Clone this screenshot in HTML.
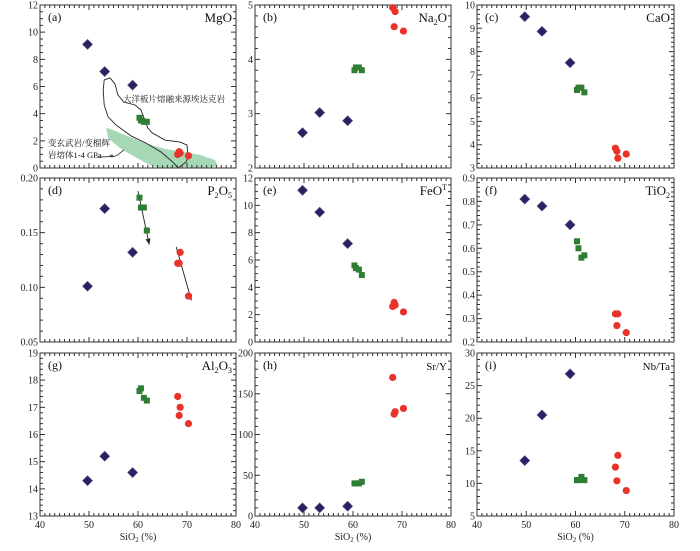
<!DOCTYPE html>
<html><head><meta charset="utf-8">
<style>
html,body{margin:0;padding:0;background:#fff;}
svg{display:block;font-family:"Liberation Serif","Noto Serif CJK SC",serif;}
</style></head>
<body>
<svg id="chart" width="700" height="551" viewBox="0 0 700 551" xmlns="http://www.w3.org/2000/svg"></svg>
<script>
const NS='http://www.w3.org/2000/svg';
const svg=document.getElementById('chart');
// SiO2 values per group
const sio2Basalt=[49.7,53.2,58.9];
const sio2Andesite=[60.3,60.6,61.2,61.8];
const sio2Dacite=[68.1,68.4,68.6,70.3];
// Per-panel element values
const mgoBasalt=[9.1,7.1,6.1], mgoAndesite=[3.7,3.5,3.4,3.4], mgoDacite=[1.0,1.2,1.1,0.9];
const na2oBasalt=[2.65,3.02,2.87], na2oAndesite=[3.8,3.85,3.85,3.8], na2oDacite=[4.95,4.6,4.88,4.52];
const caoBasalt=[9.5,8.87,7.52], caoAndesite=[6.35,6.45,6.45,6.25], caoDacite=[3.85,3.72,3.42,3.6];
const p2o5Basalt=[0.101,0.172,0.132], p2o5Andesite=[0.182,0.173,0.173,0.152], p2o5Dacite=[0.122,0.122,0.132,0.092];
const feoBasalt=[11.1,9.5,7.2], feoAndesite=[5.6,5.4,5.3,4.9], feoDacite=[2.6,2.9,2.7,2.2];
const tio2Basalt=[0.81,0.78,0.70], tio2Andesite=[0.63,0.60,0.56,0.57], tio2Dacite=[0.32,0.27,0.32,0.24];
const al2o3Basalt=[14.3,15.2,14.6], al2o3Andesite=[17.6,17.7,17.35,17.25], al2o3Dacite=[17.4,16.7,17.0,16.4];
const srYBasalt=[10,10,12], srYAndesite=[40,40,40,42], srYDacite=[170,125,128,132];
const nbTaBasalt=[13.5,20.5,26.8], nbTaAndesite=[10.5,10.5,11,10.5], nbTaDacite=[12.5,10.4,14.3,8.9];
const xTicks=[40,50,60,70,80];
// y tick labels per panel
const mgoTicks=[0,2,4,6,8,10,12];
const na2oTicks=[2,3,4,5];
const caoTicks=[3,4,5,6,7,8,9,10];
const p2o5Ticks=[0.05,0.10,0.15,0.20];
const feoTicks=[0,2,4,6,8,10,12];
const tio2Ticks=[0.2,0.3,0.4,0.5,0.6,0.7,0.8,0.9];
const al2o3Ticks=[13,14,15,16,17,18,19];
const srYTicks=[0,50,100,150,200];
const nbTaTicks=[5,10,15,20,25,30];
// trend arrows (data units) for P2O5
const arrowAndesite=[[60.0,0.188],[62.3,0.139]];
const arrowDacite=[[67.8,0.137],[70.9,0.088]];
// fields in MgO panel (data units)
const fieldSlabMelt=[[53.5,2.95],[54.9,2.8],[57.3,2.43],[61.4,1.84],[65.5,1.4],[69.6,1.18],[72.7,0.96],[75.7,0.59],[76.3,0.15],[73.7,0],[68.6,0.07],[64.5,0],[62.4,0.22],[59.4,0.81],[56.3,1.47],[53.9,2.2]];
const fieldAdakite=[[53.1,6.48],[54.3,6.63],[55.3,6.19],[55.9,5.38],[57.1,4.86],[59.4,4.64],[60.6,4.27],[61.4,3.53],[62.0,2.95],[62.9,2.58],[65.5,2.06],[68.6,1.91],[70.0,1.69],[70.2,0.81],[69.8,0.44],[68.2,0],[67.1,0.44],[64.7,1.18],[61.6,1.84],[58.6,2.36],[55.5,3.17],[53.9,3.76],[53.1,4.64],[52.9,5.74],[53.1,6.48]];
const adakiteTail=[[57.1,1.33],[55.9,0.96],[55.1,0.85],[54.6,0.81],[54.3,0.9],[54.7,0.96],[55.0,0.85],[52.0,0.81],[51.5,0.8]];

function el(tag,attrs,parent){const e=document.createElementNS(NS,tag);for(const k in attrs)e.setAttribute(k,attrs[k]);(parent||svg).appendChild(e);return e;}

const cols=[[40,236],[255,451],[477,674]];
const rows=[[5,168],[178,342],[353,516]];
const panels=[
 {id:'mgo',lab:'(a)',name:'MgO',sub:null,ymin:0,ymax:12,ticks:mgoTicks,minor:0.5,b:mgoBasalt,a:mgoAndesite,d:mgoDacite},
 {id:'na2o',lab:'(b)',name:'Na',sub:['2','O'],ymin:2,ymax:5,ticks:na2oTicks,minor:0.2,b:na2oBasalt,a:na2oAndesite,d:na2oDacite},
 {id:'cao',lab:'(c)',name:'CaO',sub:null,ymin:3,ymax:10,ticks:caoTicks,minor:0.2,b:caoBasalt,a:caoAndesite,d:caoDacite},
 {id:'p2o5',lab:'(d)',name:'P',sub:['2','O','5'],ymin:0.05,ymax:0.20,ticks:p2o5Ticks,minor:0.01,b:p2o5Basalt,a:p2o5Andesite,d:p2o5Dacite},
 {id:'feo',lab:'(e)',name:'FeO',sup:'T',ymin:0,ymax:12,ticks:feoTicks,minor:0.5,b:feoBasalt,a:feoAndesite,d:feoDacite},
 {id:'tio2',lab:'(f)',name:'TiO',sub:['2'],ymin:0.2,ymax:0.9,ticks:tio2Ticks,minor:0.02,b:tio2Basalt,a:tio2Andesite,d:tio2Dacite},
 {id:'al2o3',lab:'(g)',name:'Al',sub:['2','O','3'],ymin:13,ymax:19,ticks:al2o3Ticks,minor:0.2,b:al2o3Basalt,a:al2o3Andesite,d:al2o3Dacite},
 {id:'sr-y',lab:'(h)',name:'Sr/Y',sub:null,ymin:0,ymax:200,ticks:srYTicks,minor:10,b:srYBasalt,a:srYAndesite,d:srYDacite},
 {id:'nb-ta',lab:'(i)',name:'Nb/Ta',sub:null,ymin:5,ymax:30,ticks:nbTaTicks,minor:1,b:nbTaBasalt,a:nbTaAndesite,d:nbTaDacite}
];
panels.forEach((p,i)=>{
 const [x0,x1]=cols[i%3],[y0,y1]=rows[Math.floor(i/3)];
 const X=v=>x0+(v-40)/40*(x1-x0);
 const Y=v=>y1-(v-p.ymin)/(p.ymax-p.ymin)*(y1-y0);
 const g=el('g',{});
 
 
 if(p.id==='mgo'){
  const f=el('polygon',{points:fieldSlabMelt.map(q=>X(q[0])+','+Y(q[1])).join(' '),fill:'#a6d8b6',stroke:'none'},g);
  
  
  const o=el('polyline',{points:fieldAdakite.map(q=>X(q[0])+','+Y(q[1])).join(' '),fill:'none',stroke:'#222','stroke-width':0.9},g);
  
  
  const t=el('polyline',{points:adakiteTail.map(q=>X(q[0])+','+Y(q[1])).join(' '),fill:'none',stroke:'#222','stroke-width':0.8},g);
  
  
  const l1=el('text',{x:123,y:102,'font-size':8.5,fill:'#111'},g);l1.textContent='大洋板片熔融来源埃达克岩';
  
  
  const l2=el('text',{x:48,y:146,'font-size':8.5,fill:'#111'},g);l2.textContent='变玄武岩/变榴辉';
  
  
  const l3=el('text',{x:48,y:158,'font-size':8.5,fill:'#111'},g);l3.textContent='岩熔体1-4 GPa';
  
  
 }
 const fr=el('rect',{x:x0,y:y0,width:x1-x0,height:y1-y0,fill:'none',stroke:'#333','stroke-width':1},g);
 
 
 let d='';
 for(let v=40;v<=80;v+=1){const major=v%10===0;const L=major?5:3;const x=X(v);d+=`M${x},${y1}v${-L}M${x},${y0}v${L}`;}
 const nm=Math.round((p.ymax-p.ymin)/p.minor);
 for(let k=0;k<=nm;k++){const v=p.ymin+k*p.minor;const major=p.ticks.some(t=>Math.abs(t-v)<1e-9);const L=major?5:3;const y=Y(v);d+=`M${x0},${y}h${L}M${x1},${y}h${-L}`;}
 const tk=el('path',{d:d,stroke:'#333','stroke-width':1,fill:'none'},g);
 
 
 p.ticks.forEach(t=>{
  const tx=el('text',{x:x0-2,y:Y(t)+3.5,'font-size':10,'text-anchor':'end',fill:'#222'},g);
  tx.textContent=(p.id==='p2o5')?t.toFixed(2):String(t);
  
  
 });
 if(i>=6){
  xTicks.forEach(t=>{
   const tx=el('text',{x:X(t),y:y1+12,'font-size':10,'text-anchor':'middle',fill:'#222'},g);
   tx.textContent=String(t);
   
   
  });
  const xt=el('text',{x:(x0+x1)/2,y:y1+24,'font-size':10,'text-anchor':'middle',fill:'#222'},g);
  xt.innerHTML='SiO<tspan font-size="7" dy="2">2</tspan><tspan dy="-2"> (%)</tspan>';
  
  
 }
 const pl=el('text',{x:x0+8,y:y0+16,'font-size':12,fill:'#111'},g);pl.textContent=p.lab;
 
 
 const nmT=el('text',{x:x1-4,y:y0+17,'font-size':p.id==='sr-y'||p.id==='nb-ta'?11:13,'text-anchor':'end',fill:'#111'},g);
 let h=p.name;
 if(p.sub){ if(p.id==='na2o')h='Na<tspan font-size="8" dy="3">2</tspan><tspan dy="-3">O</tspan>';
   else if(p.id==='p2o5')h='P<tspan font-size="8" dy="3">2</tspan><tspan dy="-3">O</tspan><tspan font-size="8" dy="3">5</tspan>';
   else if(p.id==='tio2')h='TiO<tspan font-size="8" dy="3">2</tspan>';
   else if(p.id==='al2o3')h='Al<tspan font-size="8" dy="3">2</tspan><tspan dy="-3">O</tspan><tspan font-size="8" dy="3">3</tspan>';}
 if(p.sup)h='FeO<tspan font-size="8" dy="-5">T</tspan>';
 nmT.innerHTML=h;
 
 
 if(p.id==='p2o5'){
  [arrowAndesite,arrowDacite].forEach((ar,j)=>{
   const ax=X(ar[0][0]),ay=Y(ar[0][1]),bx=X(ar[1][0]),by=Y(ar[1][1]);
   const ln=el('line',{x1:ax,y1:ay,x2:bx,y2:by,stroke:'#222','stroke-width':0.9},g);
   
   
   const ang=Math.atan2(by-ay,bx-ax);
   const hp=[[bx,by],[bx-6*Math.cos(ang)+2.5*Math.sin(ang),by-6*Math.sin(ang)-2.5*Math.cos(ang)],[bx-6*Math.cos(ang)-2.5*Math.sin(ang),by-6*Math.sin(ang)+2.5*Math.cos(ang)]];
   const hd=el('polygon',{points:hp.map(q=>q.join(',')).join(' '),fill:'#222'},g);
   
   
  });
 }
 p.b.forEach((v,k)=>{const x=X(sio2Basalt[k]),y=Y(v);
  const m=el('polygon',{points:`${x},${y-5} ${x+5},${y} ${x},${y+5} ${x-5},${y}`,fill:'#2b2160',stroke:'#5a5290','stroke-width':0.6},g);
  
  });
 p.a.forEach((v,k)=>{const x=X(sio2Andesite[k]),y=Y(v);
  const m=el('rect',{x:x-3,y:y-3,width:6,height:6,fill:'#2e7d32'},g);
  
  });
 p.d.forEach((v,k)=>{const x=X(sio2Dacite[k]),y=Y(v);
  const m=el('circle',{cx:x,cy:y,r:3.6,fill:'#e8322a'},g);
  
  });
});
</script>
</body></html>
